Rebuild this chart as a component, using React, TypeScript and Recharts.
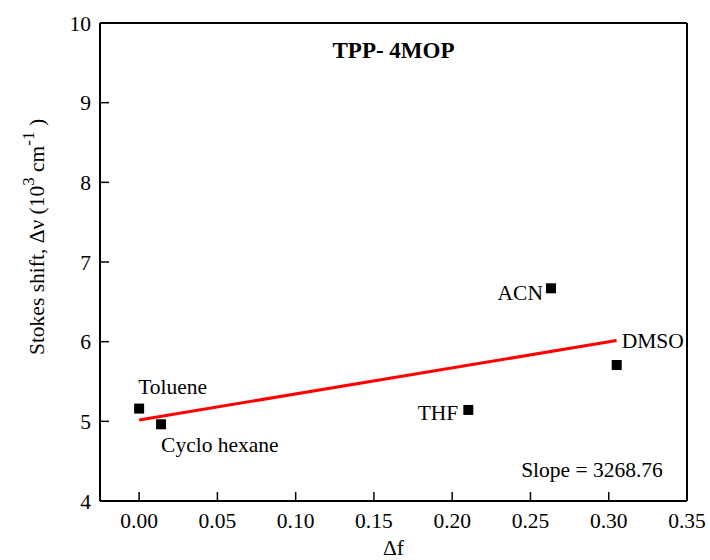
import React from 'react';
import {
  ScatterChart,
  Scatter,
  XAxis,
  YAxis,
  ReferenceLine,
} from 'recharts';

// solvents and their Lippert-Mataga points
const solvents = ['Toluene', 'Cyclo hexane', 'THF', 'ACN', 'DMSO'];
const deltaF = [0.0, 0.014, 0.2103, 0.2631, 0.3051];
const stokesShift = [5.16, 4.963, 5.143, 6.67, 5.707];

// linear fit end points
const fitDeltaF = [0.0, 0.305];
const fitShift = [5.017, 6.014];

const xMajorTicks = [0, 0.05, 0.1, 0.15, 0.2, 0.25, 0.3, 0.35];
const xMinorTicks = [0.025, 0.075, 0.125, 0.175, 0.225, 0.275, 0.325];
const yMajorTicks = [4, 5, 6, 7, 8, 9, 10];
const yMinorTicks = [4.5, 5.5, 6.5, 7.5, 8.5, 9.5];

const title = 'TPP- 4MOP';
const slopeText = 'Slope = 3268.76';

// where each solvent name sits relative to its marker
const labelPlace: Record<string, { dx: number; dy: number; anchor: 'start' | 'end' }> = {
  Toluene: { dx: -1, dy: -15, anchor: 'start' },
  'Cyclo hexane': { dx: 0, dy: 28, anchor: 'start' },
  THF: { dx: -10, dy: 10, anchor: 'end' },
  ACN: { dx: -8, dy: 12, anchor: 'end' },
  DMSO: { dx: 5, dy: -17, anchor: 'start' },
};

const points = solvents.map((name, i) => ({ name, x: deltaF[i], y: stokesShift[i] }));

const FONT = 'Liberation Serif, DejaVu Serif, serif';
const FS = 21.5;
// axes get a near-zero thickness so they all sit on the plot frame (0 hides them)
const THIN = 0.001;

const SquareMarker = (props: any) => {
  const { cx, cy, payload } = props;
  const p = labelPlace[payload.name];
  return (
    <g>
      <rect x={cx - 5} y={cy - 5} width={10} height={10} fill="#000" />
      <text
        x={cx + p.dx}
        y={cy + p.dy}
        textAnchor={p.anchor}
        style={{ fontSize: FS, fontFamily: FONT }}
        fill="#000"
      >
        {payload.name}
      </text>
    </g>
  );
};

const App: React.FC = () => {
  const xDomain: [number, number] = [-0.025, 0.35];
  const yDomain: [number, number] = [4, 10];
  const tickStyle = { fontSize: FS, fill: '#000', fontFamily: FONT };
  const tickLineStyle = { stroke: '#000', strokeWidth: 1.5 };
  const axisLineStyle = { stroke: '#000', strokeWidth: 2 };

  return (
    <div style={{ position: 'absolute', left: 0, top: 0, width: 710, height: 560, background: '#fff', fontFamily: FONT }}>
      <ScatterChart
        width={710}
        height={560}
        margin={{ top: 23, right: 23, bottom: 59, left: 100 }}
        style={{ fontFamily: FONT }}
      >
        {/* bottom */}
        <XAxis
          xAxisId="x"
          type="number"
          dataKey="x"
          domain={xDomain}
          allowDataOverflow
          ticks={xMajorTicks}
          interval={0}
          tickFormatter={(v: number) => v.toFixed(2)}
          tick={tickStyle}
          tickSize={-9}
          tickMargin={21}
          axisLine={axisLineStyle}
          tickLine={tickLineStyle}
          height={THIN}
          label={{
            content: (p: any) => (
              <text
                x={p.viewBox.x + p.viewBox.width / 2}
                y={p.viewBox.y + 54}
                textAnchor="middle"
                style={{ fontSize: FS, fontFamily: FONT }}
                fill="#000"
              >
                Δf
              </text>
            ),
          }}
        />
        <XAxis
          xAxisId="xminor"
          type="number"
          domain={xDomain}
          allowDataOverflow
          ticks={xMinorTicks}
          interval={0}
          tick={false}
          tickSize={-5}
          axisLine={false}
          tickLine={tickLineStyle}
          height={THIN}
          label={{
            content: (p: any) => (
              <text
                x={p.viewBox.x + p.viewBox.width - 95}
                y={p.viewBox.y - 24}
                textAnchor="middle"
                style={{ fontSize: FS, fontFamily: FONT }}
                fill="#000"
              >
                {slopeText}
              </text>
            ),
          }}
        />
        {/* top */}
        <XAxis
          xAxisId="xt"
          orientation="top"
          type="number"
          domain={xDomain}
          allowDataOverflow
          ticks={xMajorTicks}
          interval={0}
          tick={false}
          tickSize={-9}
          axisLine={axisLineStyle}
          tickLine={tickLineStyle}
          height={THIN}
          label={{
            content: (p: any) => (
              <text
                x={p.viewBox.x + p.viewBox.width / 2}
                y={p.viewBox.y + 35}
                textAnchor="middle"
                style={{ fontSize: 23, fontWeight: 'bold', fontFamily: FONT }}
                fill="#000"
              >
                {title}
              </text>
            ),
          }}
        />
        <XAxis
          xAxisId="xtminor"
          orientation="top"
          type="number"
          domain={xDomain}
          allowDataOverflow
          ticks={xMinorTicks}
          interval={0}
          tick={false}
          tickSize={-5}
          axisLine={false}
          tickLine={tickLineStyle}
          height={THIN}
        />
        {/* left */}
        <YAxis
          yAxisId="y"
          type="number"
          dataKey="y"
          domain={yDomain}
          allowDataOverflow
          ticks={yMajorTicks}
          interval={0}
          tick={tickStyle}
          tickSize={-9}
          tickMargin={18}
          axisLine={axisLineStyle}
          tickLine={tickLineStyle}
          width={THIN}
          label={{
            content: (p: any) => {
              const lx = p.viewBox.x - 56;
              const ly = 237;
              return (
                <text
                  x={lx}
                  y={ly}
                  transform={`rotate(-90, ${lx}, ${ly})`}
                  textAnchor="middle"
                  style={{ fontSize: FS, fontFamily: FONT }}
                  fill="#000"
                >
                  Stokes shift, Δν (10
                  <tspan dy={-10} style={{ fontSize: 17 }}>3</tspan>
                  <tspan dy={10}>{'  cm'}</tspan>
                  <tspan dy={-10} style={{ fontSize: 17 }}>-1</tspan>
                  <tspan dy={10}>{' )'}</tspan>
                </text>
              );
            },
          }}
        />
        <YAxis
          yAxisId="yminor"
          type="number"
          domain={yDomain}
          allowDataOverflow
          ticks={yMinorTicks}
          interval={0}
          tick={false}
          tickSize={-5}
          axisLine={false}
          tickLine={tickLineStyle}
          width={THIN}
        />
        {/* right */}
        <YAxis
          yAxisId="yr"
          orientation="right"
          type="number"
          domain={yDomain}
          allowDataOverflow
          ticks={yMajorTicks}
          interval={0}
          tick={false}
          tickSize={-9}
          axisLine={axisLineStyle}
          tickLine={tickLineStyle}
          width={THIN}
        />
        <YAxis
          yAxisId="yrminor"
          orientation="right"
          type="number"
          domain={yDomain}
          allowDataOverflow
          ticks={yMinorTicks}
          interval={0}
          tick={false}
          tickSize={-5}
          axisLine={false}
          tickLine={tickLineStyle}
          width={THIN}
        />

        <ReferenceLine
          xAxisId="x"
          yAxisId="y"
          segment={[
            { x: fitDeltaF[0], y: fitShift[0] },
            { x: fitDeltaF[1], y: fitShift[1] },
          ]}
          stroke="#ff0000"
          strokeWidth={3}
        />

        <Scatter
          xAxisId="x"
          yAxisId="y"
          data={points}
          shape={SquareMarker}
          isAnimationActive={false}
        />
      </ScatterChart>
    </div>
  );
};

export default App;
